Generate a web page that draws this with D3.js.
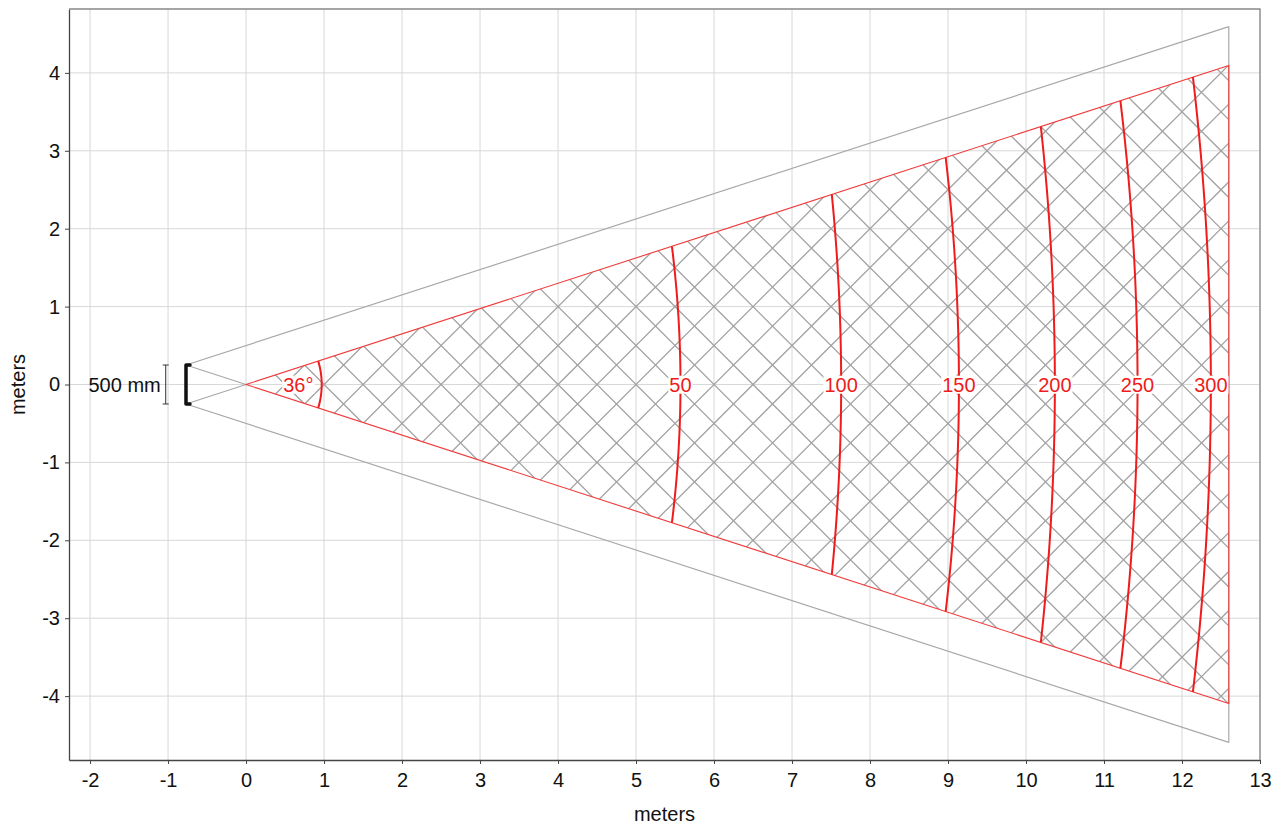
<!DOCTYPE html>
<html>
<head>
<meta charset="utf-8">
<script src="https://cdn.jsdelivr.net/npm/d3@7"></script>
<style>
  html, body { margin: 0; padding: 0; background: #fff; }
  svg { display: block; font-family: "Liberation Sans", Arial, sans-serif; }
</style>
</head>
<body>
<svg id="chart" width="1286" height="828"></svg>
<script>
// ---------- data ----------
const xTickValues = [-2, -1, 0, 1, 2, 3, 4, 5, 6, 7, 8, 9, 10, 11, 12, 13];
const yTickValues = [-4, -3, -2, -1, 0, 1, 2, 3, 4];
const xDomain = [-2.27, 13];
const yDomain = [-4.82, 4.82];
const axisTitleX = "meters";
const axisTitleY = "meters";

const fovHalfAngleDeg = 18;       // 36° field of view
const rangeEndX = 12.6;            // far edge of the coverage
const sensorX = -0.77;             // sensor position
const sensorHalfWidth = 0.25;      // 500 mm sensor
const sensorLabel = "500 mm";
const dimLineX = -1.03;

const angleLabel = "36°";
const angleArcTopX = 0.925;
const angleArcMidX = 0.97;
const angleLabelX = 0.67;

const contourLabels = ["50", "100", "150", "200", "250", "300"];
const contourTopX  = [5.46, 7.51, 8.97, 10.19, 11.21, 12.14];
const contourMidX  = [5.57, 7.63, 9.14, 10.37, 11.43, 12.37];

const hatchSpacing = 0.5;

// ---------- layout ----------
const FS = 20;
const svg = d3.select("#chart");
const plot = { left: 69, top: 9, right: 1260, bottom: 760 };
const x = d3.scaleLinear().domain(xDomain).range([plot.left, plot.right]);
const y = d3.scaleLinear().domain(yDomain).range([plot.bottom, plot.top]);
const tanA = Math.tan(fovHalfAngleDeg * Math.PI / 180);

const gridColor = "#d8d8d8";
const red = "#ee1c1c";
const lineGray = "#a8a8a8";

// grid
const grid = svg.append("g");
grid.selectAll("line.vx").data(xTickValues).join("line")
  .attr("x1", d => x(d)).attr("x2", d => x(d))
  .attr("y1", plot.top).attr("y2", plot.bottom)
  .attr("stroke", gridColor).attr("stroke-width", 1);
grid.selectAll("line.hy").data(yTickValues).join("line")
  .attr("y1", d => y(d)).attr("y2", d => y(d))
  .attr("x1", plot.left).attr("x2", plot.right)
  .attr("stroke", gridColor).attr("stroke-width", 1);

// sector polygon (data coords)
const yEdge = tanA * rangeEndX;
const sector = [[0, 0], [rangeEndX, yEdge], [rangeEndX, -yEdge]];
const defs = svg.append("defs");
defs.append("clipPath").attr("id", "sectorClip")
  .append("path").attr("d", "M" + sector.map(p => [x(p[0]), y(p[1])].join(",")).join("L") + "Z");

// hatch lines (data coords), clipped to sector
const hatch = svg.append("g").attr("clip-path", "url(#sectorClip)");
const kRange = d3.range(-40, 80);
const hatchLines = [];
kRange.forEach(k => {
  const c = k * hatchSpacing;
  hatchLines.push([[c + 6, -6], [c - 6, 6]]);
  hatchLines.push([[c - 6, -6], [c + 6, 6]]);
});
hatch.selectAll("line").data(hatchLines).join("line")
  .attr("x1", d => x(d[0][0])).attr("y1", d => y(d[0][1]))
  .attr("x2", d => x(d[1][0])).attr("y2", d => y(d[1][1]))
  .attr("stroke", "#a2a2a2").attr("stroke-width", 1.3);

// gray envelope lines
const lineGen = d3.line().x(d => x(d[0])).y(d => y(d[1]));
const yOuter = sensorHalfWidth + tanA * (rangeEndX - sensorX);
const grayPaths = [
  [[sensorX, sensorHalfWidth], [rangeEndX, yOuter]],
  [[sensorX, -sensorHalfWidth], [rangeEndX, -yOuter]],
  [[sensorX, sensorHalfWidth], [0, 0]],
  [[sensorX, -sensorHalfWidth], [0, 0]],
  [[rangeEndX, yOuter], [rangeEndX, -yOuter]]
];
svg.append("g").selectAll("path").data(grayPaths).join("path")
  .attr("d", lineGen).attr("fill", "none")
  .attr("stroke", lineGray).attr("stroke-width", 1.2);

// red sector outline
svg.append("path")
  .attr("d", lineGen(sector) + "Z")
  .attr("fill", "none").attr("stroke", "#f03a3a").attr("stroke-width", 1.1);

// arcs through (topX, tan*topX), (midX, 0), (topX, -tan*topX)
function arcPoints(topX, midX) {
  const yt = tanA * topX;
  const c = (midX * midX - topX * topX - yt * yt) / (2 * (midX - topX));
  const R = midX - c;
  const a = Math.asin(yt / R);
  return d3.range(0, 41).map(i => {
    const t = -a + (2 * a * i) / 40;
    return [c + R * Math.cos(t), R * Math.sin(t)];
  });
}
const arcs = contourLabels.map((lab, i) => ({ label: lab, top: contourTopX[i], mid: contourMidX[i] }));
const allArcs = [{ label: angleLabel, top: angleArcTopX, mid: angleArcMidX, lx: angleLabelX }]
  .concat(arcs.map(a => Object.assign({ lx: a.mid }, a)));

svg.append("g").selectAll("path").data(allArcs).join("path")
  .attr("d", d => lineGen(arcPoints(d.top, d.mid)))
  .attr("fill", "none").attr("stroke", red).attr("stroke-width", 2);

// labels with white background
const labG = svg.append("g");
allArcs.forEach(d => {
  const g = labG.append("g");
  const t = g.append("text")
    .attr("x", x(d.lx)).attr("y", y(0))
    .attr("dy", "0.36em")
    .attr("text-anchor", "middle")
    .attr("font-size", FS).attr("fill", red)
    .text(d.label);
  const bb = t.node().getBBox();
  g.insert("rect", "text")
    .attr("x", bb.x - 1).attr("y", bb.y + 2)
    .attr("width", bb.width + 2).attr("height", bb.height - 4)
    .attr("fill", "#fff");
});

// sensor bracket
const sTop = y(sensorHalfWidth), sBot = y(-sensorHalfWidth), sx = x(sensorX);
svg.append("path")
  .attr("d", `M${sx + 4},${sTop} H${sx} V${sBot} H${sx + 4}`)
  .attr("fill", "none").attr("stroke", "#111").attr("stroke-width", 3.5)
  .attr("stroke-linejoin", "round").attr("stroke-linecap", "round");

// dimension line
const dx = x(dimLineX);
svg.append("path")
  .attr("d", `M${dx - 3},${sTop} H${dx + 3} M${dx},${sTop} V${sBot} M${dx - 3},${sBot} H${dx + 3}`)
  .attr("fill", "none").attr("stroke", "#333").attr("stroke-width", 1);
svg.append("text")
  .attr("x", dx - 5).attr("y", y(0)).attr("dy", "0.36em")
  .attr("text-anchor", "end").attr("font-size", FS).attr("fill", "#111")
  .text(sensorLabel);

// axes
const xAxis = svg.append("g").attr("transform", `translate(0,${plot.bottom})`)
  .call(d3.axisBottom(x).tickValues(xTickValues).tickSize(4).tickSizeOuter(0).tickPadding(9).tickFormat(d3.format("d")));
const yAxis = svg.append("g").attr("transform", `translate(${plot.left},0)`)
  .call(d3.axisLeft(y).tickValues(yTickValues).tickSize(4).tickSizeOuter(0).tickPadding(5).tickFormat(d3.format("d")));
[xAxis, yAxis].forEach(g => {
  g.selectAll("text").attr("font-size", FS).attr("fill", "#111")
    .attr("font-family", "'Liberation Sans', Arial, sans-serif");
  g.selectAll(".tick line").attr("stroke", "#444");
  g.select(".domain").attr("stroke", "#444").attr("stroke-width", 1.3);
});
xAxis.selectAll("text").text(d => d < 0 ? "-" + Math.abs(d) : d);
yAxis.selectAll("text").text(d => d < 0 ? "-" + Math.abs(d) : d);

// frame top & right
svg.append("path")
  .attr("d", `M${plot.left},${plot.top} H${plot.right} V${plot.bottom}`)
  .attr("fill", "none").attr("stroke", "#888").attr("stroke-width", 1.3);

// axis titles
svg.append("text")
  .attr("x", (plot.left + plot.right) / 2).attr("y", 821)
  .attr("text-anchor", "middle").attr("font-size", FS).attr("fill", "#111")
  .text(axisTitleX);
svg.append("text")
  .attr("transform", `translate(25,${y(0)}) rotate(-90)`)
  .attr("text-anchor", "middle").attr("font-size", FS).attr("fill", "#111")
  .text(axisTitleY);
</script>
</body>
</html>
